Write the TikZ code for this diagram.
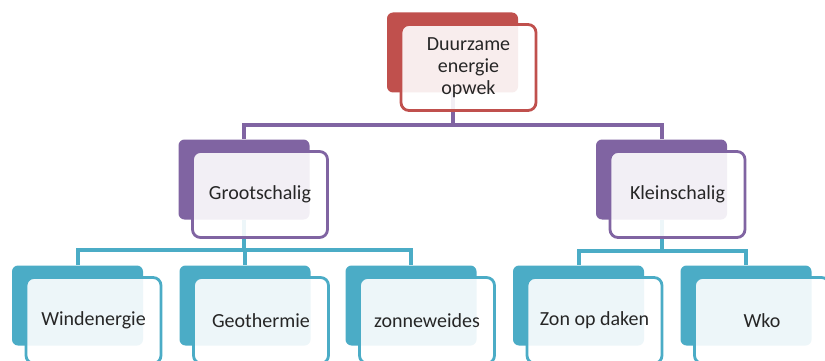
\documentclass[tikz,border=0pt]{standalone}
\usepackage{fontspec}
\setmainfont{Carlito}
\usepackage{tikz}
\definecolor{rootRed}{HTML}{C0504D}
\definecolor{groupPurple}{HTML}{8064A2}
\definecolor{leafTeal}{HTML}{4BACC6}
\tikzset{
	back box/.style={
		rectangle,
		rounded corners=6pt,
		fill=#1,
		inner sep=0pt,
		minimum width=131pt,
		minimum height=80pt
	},
	front box/.style={
		rectangle,
		rounded corners=8pt,
		draw=#1,
		line width=2.8pt,
		fill=white,
		fill opacity=0.9,
		text opacity=1,
		text=black!85,
		align=center,
		inner sep=0pt,
		minimum width=135pt,
		minimum height=86pt,
		font=\fontsize{20}{22}\selectfont
	},
}

\begin{document}
\begin{tikzpicture}[x=1pt,y=-1pt]
\tikzset{link/.style = {line width=4pt, draw=#1}}
\clip (0,0) rectangle (825,361);

\node[back box=rootRed] (opwekBack) at (452.5,52.5) {};
	\node[back box=groupPurple] (grootBack) at (244,179.5) {};
	\node[back box=groupPurple] (kleinBack) at (661.5,179.5) {};
		\node[back box=leafTeal] (windBack) at (77.5,305.5) {};
		\node[back box=leafTeal] (geoBack) at (245,305.5) {};
		\node[back box=leafTeal] (weideBack) at (411,305.5) {};
		\node[back box=leafTeal] (dakenBack) at (578.5,305.5) {};
		\node[back box=leafTeal] (wkoBack) at (746,305.5) {};

\draw[link=groupPurple] (opwekBack.south) -- ++(0,32) -| (grootBack.north);
\draw[link=groupPurple] (opwekBack.south) -- ++(0,32) -| (kleinBack.north);
\draw[link=leafTeal] (grootBack.south) -- ++(0,30) -| (windBack.north);
\draw[link=leafTeal] (grootBack.south) -- ++(0,30) -| (geoBack.north);
\draw[link=leafTeal] (grootBack.south) -- ++(0,30) -| (weideBack.north);
\draw[link=leafTeal] (kleinBack.south) -- ++(0,31) -| (dakenBack.north);
\draw[link=leafTeal] (kleinBack.south) -- ++(0,31) -| (wkoBack.north);

\node[front box=rootRed] (opwek) at (468.5,67.5) {Duurzame\\energie\\opwek};
	\node[front box=groupPurple] (groot) at (260,194.5) {Grootschalig};
	\node[front box=groupPurple] (klein) at (677.5,194.5) {Kleinschalig};
		\node[front box=leafTeal] (wind) at (93.5,320.5) {Windenergie};
		\node[front box=leafTeal] (geo) at (261,320.5) {Geothermie};
		\node[front box=leafTeal] (weide) at (427,320.5) {zonneweides};
		\node[front box=leafTeal] (daken) at (594.5,320.5) {Zon op daken};
		\node[front box=leafTeal] (wko) at (762,320.5) {Wko};
\end{tikzpicture}
\end{document}
